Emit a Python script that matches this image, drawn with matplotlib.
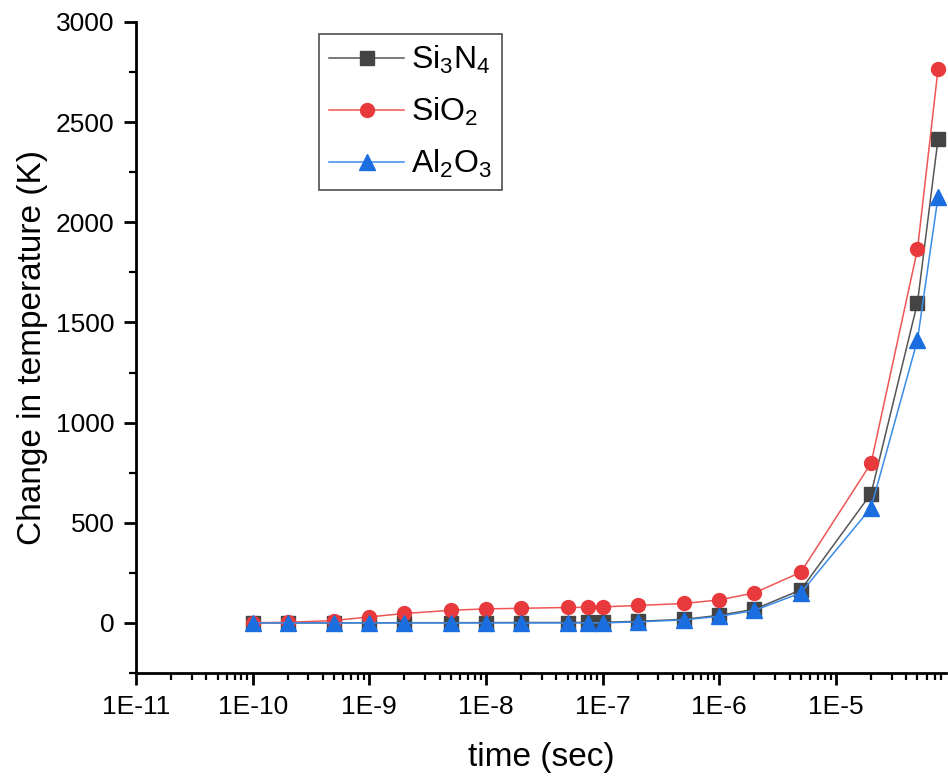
import numpy as np
import matplotlib

matplotlib.use("Agg")
import matplotlib.pyplot as plt
from matplotlib.ticker import FuncFormatter, LogLocator, MultipleLocator

plt.rcParams["font.family"] = ["Liberation Sans", "DejaVu Sans"]
plt.rcParams["mathtext.fontset"] = "custom"
plt.rcParams["mathtext.rm"] = "Liberation Sans"
plt.rcParams["mathtext.it"] = "Liberation Sans"
plt.rcParams["mathtext.default"] = "regular"

# time points (sec)
time_s = [1e-10, 2e-10, 5e-10, 1e-9, 2e-9, 5e-9, 1e-8, 2e-8, 5e-8, 7.5e-8,
          1e-7, 2e-7, 5e-7, 1e-6, 2e-6, 5e-6, 2e-5, 5e-5, 7.5e-5]

# change in temperature (K)
si3n4 = [0, 0, 0, 0.5, 1, 1, 1.5, 2, 2, 2.5,
         3, 8, 18, 38, 68, 165, 645, 1598, 2414]
sio2 = [1, 3, 12, 30, 47, 63, 70, 73, 77, 78,
        80, 87, 97, 115, 150, 253, 797, 1865, 2763]
al2o3 = [0, 0, 0, 0, 0, 0, 0, 0, 0, 0,
         0, 5, 15, 33, 62, 150, 575, 1412, 2126]

series_labels = ["Si$_3$N$_4$", "SiO$_2$", "Al$_2$O$_3$"]

fig = plt.figure(figsize=(9.48, 7.82), dpi=100)
ax = fig.add_axes([0.1435, 0.1394, 0.8545, 0.8325])

ax.plot(time_s, si3n4, color="#555555", lw=1.1, marker="s", ms=10,
        mfc="#444444", mec="#444444", label=series_labels[0])
ax.plot(time_s, sio2, color="#f05555", lw=1.1, marker="o", ms=10,
        mfc="#e83a3c", mec="#e83a3c", label=series_labels[1])
ax.plot(time_s, al2o3, color="#3a8ae8", lw=1.1, marker="^", ms=11,
        mfc="#1a6ee0", mec="#1a6ee0", label=series_labels[2])

ax.set_xscale("log")
ax.set_xlim(1e-11, 8.8e-5)
ax.set_ylim(-250, 3000)

ax.xaxis.set_major_locator(LogLocator(base=10, numticks=20))
ax.xaxis.set_minor_locator(LogLocator(base=10, subs=np.arange(2, 10), numticks=20))
ax.xaxis.set_major_formatter(
    FuncFormatter(lambda v, pos: f"1E{int(round(np.log10(v)))}"))
ax.yaxis.set_major_locator(MultipleLocator(500))
ax.yaxis.set_minor_locator(MultipleLocator(250))

for side in ("top", "right"):
    ax.spines[side].set_visible(False)
for side in ("left", "bottom"):
    ax.spines[side].set_linewidth(2)

ax.tick_params(which="major", direction="out", length=8.5, width=2,
               labelsize=19, pad=7)
ax.tick_params(which="minor", direction="out", length=5, width=1.6)

ax.set_xlabel("time (sec)", fontsize=24, labelpad=17)
ax.set_ylabel("Change in temperature (K)", fontsize=24, labelpad=6)

leg = ax.legend(loc="upper left", bbox_to_anchor=(0.226, 0.982), fontsize=23,
                frameon=True, fancybox=False, edgecolor="#222222",
                handlelength=2.35, handletextpad=0.2, borderpad=0.32,
                labelspacing=0.62, borderaxespad=0)
leg.get_frame().set_linewidth(1.2)

fig.savefig("out.png", dpi=100)
